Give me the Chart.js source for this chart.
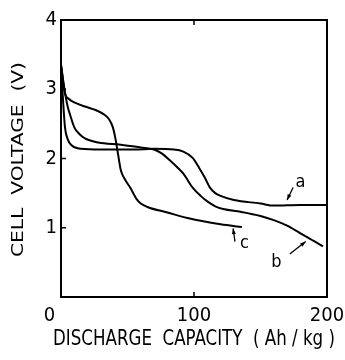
<!DOCTYPE html>
<html>
<head>
<meta charset="utf-8">
<script src="https://cdn.jsdelivr.net/npm/chart.js@4/dist/chart.umd.min.js"></script>
<style>
  html, body { margin: 0; padding: 0; background: #fff; }
  #wrap { width: 345px; height: 360px; }
</style>
</head>
<body>
<div id="wrap"><canvas id="c" width="345" height="360"></canvas></div>
<script>
// Discharge curves: capacity (Ah/kg) vs cell voltage (V)
const capA = [0, 1.5, 3, 5, 8, 15, 30, 55, 70, 85, 92, 99, 104, 108, 112, 116, 120, 130, 150, 160, 180, 200];
const voltA = [3.35, 2.85, 2.45, 2.28, 2.19, 2.14, 2.13, 2.13, 2.14, 2.13, 2.10, 2.01, 1.86, 1.73, 1.58, 1.50, 1.46, 1.40, 1.35, 1.32, 1.33, 1.33];

const capB = [0, 3, 5, 7, 10, 14, 18, 28, 45, 60, 70, 76, 82, 87, 92, 99, 105, 110, 116, 122, 135, 150, 160, 170, 180, 190, 197];
const voltB = [3.35, 2.95, 2.75, 2.62, 2.45, 2.35, 2.29, 2.23, 2.20, 2.16, 2.13, 2.07, 1.97, 1.88, 1.78, 1.58, 1.46, 1.38, 1.31, 1.27, 1.23, 1.17, 1.11, 1.03, 0.92, 0.81, 0.73];

const capC = [0, 3, 6, 10, 18, 26, 32, 36, 39, 41, 43, 45, 48, 52, 57, 60, 65, 80, 95, 105, 120, 136];
const voltC = [3.35, 2.94, 2.86, 2.81, 2.75, 2.70, 2.64, 2.57, 2.45, 2.28, 2.05, 1.83, 1.70, 1.58, 1.41, 1.35, 1.30, 1.22, 1.14, 1.10, 1.05, 1.01];

const xTicks = [0, 100, 200];
const yTicks = [1, 2, 3, 4];

const xTitle = 'DISCHARGE  CAPACITY  ( Ah / kg )';
const yTitle = 'CELL  VOLTAGE  (V)';

// Curve labels: text position and arrow (tail -> head) in data units
const curveLabels = [
  { text: 'a', at: [180, 1.66], tail: [174.5, 1.58], head: [170, 1.40] },
  { text: 'b', at: [162, 0.50], tail: [172, 0.62], head: [184, 0.80] },
  { text: 'c', at: [138, 0.77], tail: [130.8, 0.80], head: [129.4, 0.99] }
];

const toPoints = (xs, ys) => xs.map((x, i) => ({ x, y: ys[i] }));

const FONT = "'DejaVu Sans Condensed', 'DejaVu Sans', sans-serif";
const FONT_WIDE = "'DejaVu Sans', sans-serif";

const lineStyle = {
  borderColor: '#000',
  borderWidth: 2,
  pointRadius: 0,
  fill: false,
  cubicInterpolationMode: 'monotone'
};

// draw text centred at (cx, cy), stretched along its baseline to a given length
function stretchedText(ctx, text, cx, cy, length, rotation) {
  ctx.save();
  ctx.translate(cx, cy);
  ctx.rotate(rotation);
  const w = ctx.measureText(text).width;
  ctx.scale(length / w, 1);
  ctx.textAlign = 'center';
  ctx.textBaseline = 'middle';
  ctx.fillText(text, 0, 0);
  ctx.restore();
}

const framePlugin = {
  id: 'frame',
  afterDraw(chart) {
    const { ctx, chartArea: a, scales: { x, y } } = chart;
    ctx.save();
    ctx.strokeStyle = '#000';
    ctx.fillStyle = '#000';
    ctx.lineWidth = 2;
    ctx.strokeRect(a.left, a.top, a.right - a.left, a.bottom - a.top);

    // inward tick marks
    ctx.lineWidth = 1.5;
    ctx.beginPath();
    [1, 2, 3].forEach(v => {
      const py = y.getPixelForValue(v);
      ctx.moveTo(a.left, py);
      ctx.lineTo(a.left + 5, py);
    });
    const px = x.getPixelForValue(100);
    ctx.moveTo(px, a.bottom); ctx.lineTo(px, a.bottom - 5);
    ctx.moveTo(px, a.top); ctx.lineTo(px, a.top + 5);
    ctx.stroke();

    // axis titles
    ctx.font = "21px " + FONT;
    stretchedText(ctx, xTitle, (a.left + a.right) / 2, 340, 282, 0);
    ctx.font = "16px " + FONT_WIDE;
    stretchedText(ctx, yTitle, 19, (a.top + a.bottom) / 2 + 1, 195, -Math.PI / 2);

    // curve labels with arrows
    ctx.font = "18px " + FONT;
    ctx.textAlign = 'center';
    ctx.textBaseline = 'middle';
    curveLabels.forEach(l => {
      ctx.fillText(l.text, x.getPixelForValue(l.at[0]), y.getPixelForValue(l.at[1]));
      const tx = x.getPixelForValue(l.tail[0]), ty = y.getPixelForValue(l.tail[1]);
      const hx = x.getPixelForValue(l.head[0]), hy = y.getPixelForValue(l.head[1]);
      ctx.lineWidth = 1.3;
      ctx.beginPath();
      ctx.moveTo(tx, ty); ctx.lineTo(hx, hy);
      ctx.stroke();
      const ang = Math.atan2(hy - ty, hx - tx);
      const len = 6, w = 0.35;
      ctx.beginPath();
      ctx.moveTo(hx, hy);
      ctx.lineTo(hx - len * Math.cos(ang - w), hy - len * Math.sin(ang - w));
      ctx.lineTo(hx - len * Math.cos(ang + w), hy - len * Math.sin(ang + w));
      ctx.closePath();
      ctx.fill();
    });
    ctx.restore();
  }
};

new Chart(document.getElementById('c'), {
  type: 'line',
  data: {
    datasets: [
      { label: 'a', data: toPoints(capA, voltA), ...lineStyle },
      { label: 'b', data: toPoints(capB, voltB), ...lineStyle },
      { label: 'c', data: toPoints(capC, voltC), ...lineStyle }
    ]
  },
  options: {
    responsive: false,
    animation: false,
    devicePixelRatio: 1,
    layout: { padding: { top: 20, right: 18, left: 0, bottom: 0 } },
    plugins: { legend: { display: false }, tooltip: { enabled: false } },
    scales: {
      x: {
        type: 'linear',
        min: 0, max: 200,
        afterBuildTicks: s => { s.ticks = xTicks.map(v => ({ value: v })); },
        afterFit: s => { s.height = 63; s.paddingLeft = 0; s.paddingRight = 0; },
        grid: { display: false, drawTicks: false },
        border: { display: false },
        ticks: {
          color: '#000', padding: 7, maxRotation: 0,
          font: { family: FONT, size: 20 },
          // the corner "0" sits left of the axis origin
          callback: v => (v === 0 ? '0    ' : String(v))
        },
        title: { display: false }
      },
      y: {
        type: 'linear',
        min: 0, max: 4,
        afterBuildTicks: s => { s.ticks = yTicks.map(v => ({ value: v })); },
        afterFit: s => { s.width = 61; s.paddingTop = 0; s.paddingBottom = 0; },
        grid: { display: false, drawTicks: false },
        border: { display: false },
        ticks: { color: '#000', padding: 4, font: { family: FONT, size: 20 } },
        title: { display: false }
      }
    }
  },
  plugins: [framePlugin]
});
</script>
</body>
</html>
